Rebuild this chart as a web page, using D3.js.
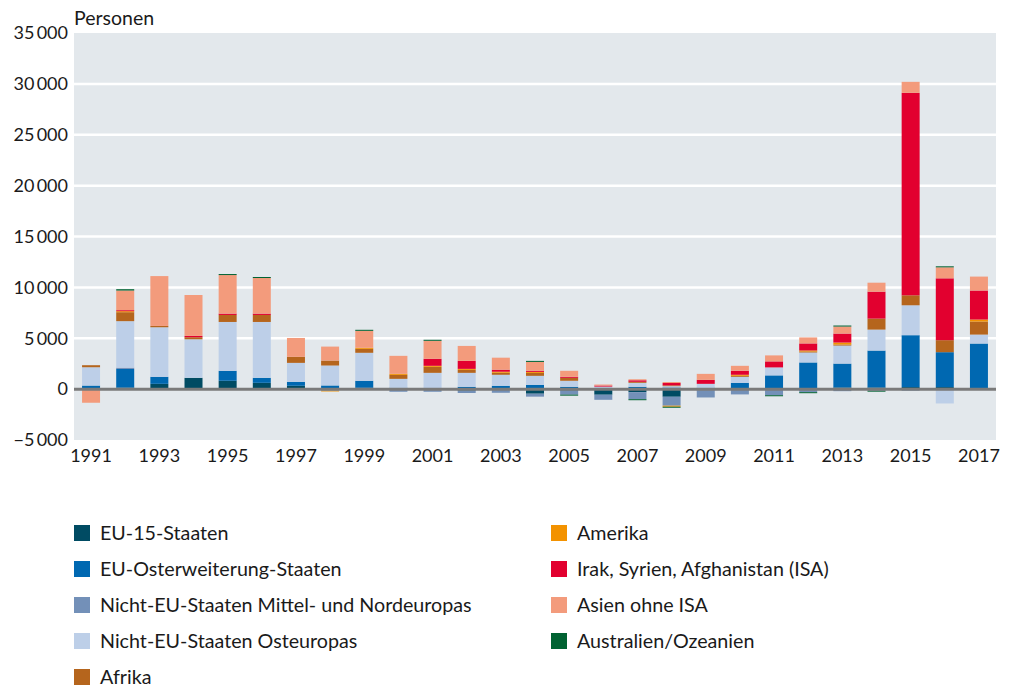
<html>
<head>
<meta charset="utf-8">
<script src="https://cdn.jsdelivr.net/npm/d3@7"></script>
<style>
  body { margin: 0; background: #fff; }
  text { font-family: Lato, "Noto Sans", sans-serif; fill: #1a1a1a; }
</style>
</head>
<body>
<svg id="chart" width="1016" height="686"></svg>
<script>
// years 1991..2017
const years = d3.range(1991, 2018);

const seriesNames = [
  "EU-15-Staaten",
  "EU-Osterweiterung-Staaten",
  "Nicht-EU-Staaten Mittel- und Nordeuropas",
  "Nicht-EU-Staaten Osteuropas",
  "Afrika",
  "Amerika",
  "Irak, Syrien, Afghanistan (ISA)",
  "Asien ohne ISA",
  "Australien/Ozeanien"
];
const seriesColors = ["#004b63", "#0068b1", "#7390b8", "#bdcfe8", "#b5651d",
                      "#f39200", "#e2002f", "#f39b7c", "#006232"];

const eu15      = [0, 150, 520, 1110, 820, 620, 330, 100, 130, 0, 0, -150, 0, -450, -150, -550, -300, -750, -100, 0, 50, 100, 160, 160, 200, 200, 100];
const euOst     = [350, 1830, 690, 0, 980, 490, 390, 260, 690, 130, 0, 230, 330, 425, 230, 100, 230, 160, 130, 620, 1300, 2520, 2350, 3630, 5100, 3430, 4380];
const mittelNord= [0, 130, 0, 0, 0, 0, 0, -150, 0, -260, -260, -230, -360, -290, -390, -500, -690, -880, -720, -520, -600, -300, -200, -150, -150, -130, -50];
const osteuropa = [1800, 4570, 4870, 3790, 4800, 5490, 1860, 1960, 2750, 880, 1600, 1370, 1080, 880, 590, 150, 390, 130, 390, 590, 785, 980, 1770, 2060, 2940, -1280, 880];
const afrika    = [200, 880, 130, 200, 690, 690, 590, 490, 390, 390, 590, 290, 200, 290, 290, 0, 100, 80, 0, 100, 0, 100, 100, 1080, 980, 1180, 1280];
const amerika   = [0, 100, 0, 0, 0, 0, 0, -80, 100, 100, 100, 100, 100, 100, 0, 0, 0, -100, 0, 100, 0, 100, 200, 0, 0, 0, 200];
const isa       = [0, 100, 0, 130, 130, 130, 0, 0, 0, 0, 690, 785, 200, 100, 100, 100, 150, 230, 390, 390, 590, 690, 880, 2650, 19900, 6080, 2850];
const asien     = [-1340, 1930, 4900, 4020, 3790, 3500, 1860, 1370, 1670, 1770, 1770, 1470, 1180, 880, 590, 100, 100, 100, 590, 490, 590, 590, 690, 880, 1080, 1080, 1370];
const australien= [0, 130, 0, 0, 100, 100, 0, 0, 100, 0, 100, 0, 0, 100, -100, 0, -100, -100, 0, 0, -100, -100, 100, -100, 0, 100, 0];

const yTicks = [-5000, 0, 5000, 10000, 15000, 20000, 25000, 30000, 35000];
const xTickYears = years.filter(y => (y - 1991) % 2 === 0);

const allSeries = [eu15, euOst, mittelNord, osteuropa, afrika, amerika, isa, asien, australien];

// table for d3.stack
const table = years.map((yr, i) => {
  const row = { year: yr };
  seriesNames.forEach((n, k) => row[n] = allSeries[k][i]);
  return row;
});

const svg = d3.select("#chart");
const plotL = 74, plotR = 996, plotT = 33, plotB = 440;

const x = d3.scaleBand().domain(years).range([plotL, plotR])
  .paddingInner(0.473).paddingOuter(0.236);
const y = d3.scaleLinear().domain([-5000, 35000]).range([plotB, plotT]);

const loc = d3.formatLocale({ decimal: ",", thousands: "\u2009", grouping: [3], currency: ["", "€"], minus: "\u2212" });
const fmt = loc.format(",d");

// background
svg.append("rect").attr("x", plotL).attr("y", plotT)
  .attr("width", plotR - plotL).attr("height", plotB - plotT)
  .attr("fill", "#e3e8ec");

// grid
svg.append("g").selectAll("line")
  .data(yTicks.filter(d => d !== 0 && d !== -5000 && d !== 35000))
  .enter().append("line")
  .attr("x1", plotL).attr("x2", plotR)
  .attr("y1", d => y(d)).attr("y2", d => y(d))
  .attr("stroke", "#fff").attr("stroke-width", 2.5);

// y axis labels
const yAxis = svg.append("g").attr("transform", `translate(${plotL},0)`)
  .call(d3.axisLeft(y).tickValues(yTicks).tickFormat(fmt).tickSize(0).tickPadding(6));
yAxis.select(".domain").remove();
yAxis.selectAll("text").attr("font-size", 18).attr("font-family", "Lato, sans-serif").attr("fill", "#1a1a1a");

// x axis labels
const xAxis = svg.append("g").attr("transform", `translate(0,${plotB})`)
  .call(d3.axisBottom(x).tickValues(xTickYears).tickSize(0).tickPadding(9));
xAxis.select(".domain").remove();
xAxis.selectAll("text").attr("font-size", 18).attr("font-family", "Lato, sans-serif").attr("fill", "#1a1a1a");

svg.append("text").attr("x", plotL).attr("y", 25)
  .attr("font-size", 19.5).text("Personen");

// stacked bars
const stacked = d3.stack().keys(seriesNames).offset(d3.stackOffsetDiverging)(table);
const layers = svg.append("g").selectAll("g")
  .data(stacked).enter().append("g")
  .attr("fill", (d, i) => seriesColors[i]);
layers.selectAll("rect")
  .data(d => d).enter().append("rect")
  .attr("x", d => x(d.data.year))
  .attr("width", x.bandwidth())
  .attr("y", d => y(Math.max(d[0], d[1])))
  .attr("height", d => Math.abs(y(d[0]) - y(d[1])));

// zero line
svg.append("line")
  .attr("x1", plotL).attr("x2", plotR)
  .attr("y1", y(0)).attr("y2", y(0))
  .attr("stroke", "#7a7a7a").attr("stroke-width", 3);

// legend
const legend = svg.append("g").selectAll("g")
  .data(seriesNames).enter().append("g")
  .attr("transform", (d, i) => {
    const col = i < 5 ? 0 : 1;
    const row = i < 5 ? i : i - 5;
    return `translate(${col === 0 ? 74 : 551},${525 + row * 36})`;
  });
legend.append("rect").attr("width", 16).attr("height", 16)
  .attr("fill", (d, i) => seriesColors[i]);
legend.append("text").attr("x", 26).attr("y", 8).attr("dy", "0.35em")
  .attr("font-size", 19.7).text(d => d);
</script>
</body>
</html>
